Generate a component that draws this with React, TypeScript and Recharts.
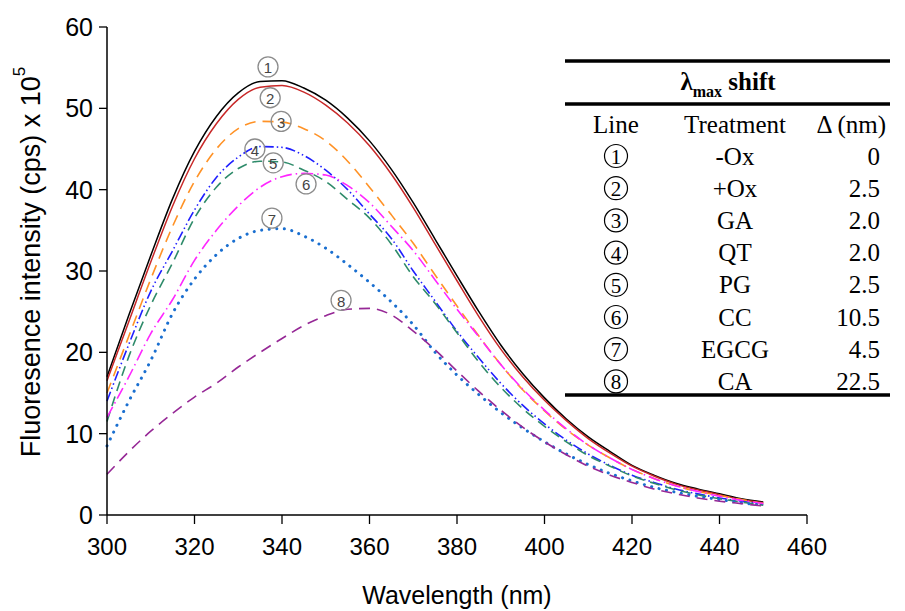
import React from 'react';
import { LineChart, Line, XAxis, YAxis, ReferenceDot } from 'recharts';

const wavelengths = [300, 305, 310, 315, 320, 325, 330, 335, 340, 345, 350, 355, 360, 365, 370, 375, 380, 385, 390, 395, 400, 405, 410, 415, 420, 425, 430, 435, 440, 445, 450];

const line1 = [17, 24.6, 31.9, 38.9, 44.7, 49.0, 51.9, 53.3, 53.4, 52.5, 51, 48.8, 46, 42.5, 38.4, 33.9, 29.4, 25, 20.9, 17.4, 14.4, 11.8, 9.6, 7.8, 6.1, 4.9, 3.9, 3.2, 2.6, 2.0, 1.6];
const line2 = [16.5, 23.8, 31.1, 38.0, 43.8, 48.1, 51.1, 52.6, 52.8, 52, 50.4, 48.2, 45.4, 41.9, 37.8, 33.3, 28.8, 24.4, 20.4, 17.0, 14.1, 11.6, 9.4, 7.6, 6, 4.8, 3.8, 3.1, 2.5, 1.9, 1.5];
const line3 = [15, 22, 29, 35.5, 41, 45, 47.5, 48.4, 48.3, 47.5, 46, 43.5, 40.3, 36.9, 33.4, 29.5, 25.7, 22, 18.5, 15.4, 12.8, 10.5, 8.6, 7, 5.6, 4.5, 3.6, 2.9, 2.4, 1.9, 1.4];
const line4 = [14, 21, 27.5, 32.5, 37.5, 41.5, 44, 45.3, 45.2, 44.2, 42.4, 40, 37, 34, 30, 26.3, 22.6, 19.3, 16.2, 13.5, 11.2, 9.2, 7.5, 6.1, 4.9, 4, 3.2, 2.6, 2.1, 1.7, 1.3];
const line5 = [11.5, 19.5, 25.8, 31, 36.5, 40.3, 42.6, 43.5, 43.4, 42.4, 41, 38.8, 36.5, 33.3, 29.3, 26, 22.4, 18.8, 15.7, 13.1, 10.9, 9, 7.3, 6, 4.8, 3.9, 3.1, 2.5, 2, 1.6, 1.2];
const line6 = [12, 17, 22.3, 26.5, 31.3, 35, 38, 40.3, 41.6, 42, 41.8, 40.5, 38.4, 35.5, 32.5, 28.9, 25.3, 21.9, 18.5, 15.5, 12.9, 10.6, 8.6, 7, 5.6, 4.5, 3.6, 2.9, 2.3, 1.8, 1.4];
const line7 = [8.5, 14, 19, 24.8, 29, 32, 34, 35, 35.2, 34.3, 32.8, 30.8, 28.6, 26.2, 23.4, 20, 17.2, 14.8, 12.6, 10.7, 9, 7.5, 6.2, 5.1, 4.2, 3.4, 2.8, 2.3, 1.9, 1.5, 1.2];
const line8 = [5, 7.8, 10.3, 12.5, 14.5, 16.2, 18.2, 20, 21.7, 23.3, 24.5, 25.3, 25.4, 24.6, 22.6, 20.3, 17.7, 15.2, 12.9, 10.8, 9, 7.4, 6, 4.9, 4, 3.2, 2.6, 2.1, 1.7, 1.4, 1.1];

const xTicks = [300, 320, 340, 360, 380, 400, 420, 440, 460];
const yTicks = [0, 10, 20, 30, 40, 50, 60];

// circled-number annotations: [wavelength, intensity]
const markerNumbers = ['1', '2', '3', '4', '5', '6', '7', '8'];
const markerX = [336.8, 337.3, 339.8, 333.8, 338, 345.5, 337.7, 353.5];
const markerY = [55.1, 51.3, 48.4, 45.0, 43.3, 40.7, 36.5, 26.4];

// table
const tableLines = ['1', '2', '3', '4', '5', '6', '7', '8'];
const tableTreatments = ['-Ox', '+Ox', 'GA', 'QT', 'PG', 'CC', 'EGCG', 'CA'];
const tableShifts = ['0', '2.5', '2.0', '2.0', '2.5', '10.5', '4.5', '22.5'];

const seriesKeys = ['s1', 's2', 's3', 's4', 's5', 's6', 's7', 's8'];
const seriesValues = [line1, line2, line3, line4, line5, line6, line7, line8];

const data = wavelengths.map((w, i) => {
  const row: Record<string, number> = { w };
  seriesKeys.forEach((k, j) => {
    row[k] = seriesValues[j][i];
  });
  return row;
});

const seriesStyles = [
  { stroke: '#000000', dash: undefined, width: 1.5, cap: 'butt' },
  { stroke: '#c82828', dash: undefined, width: 1.5, cap: 'butt' },
  { stroke: '#ff9226', dash: '11 7', width: 1.6, cap: 'butt' },
  { stroke: '#1f1fff', dash: '10 3 1.5 3 1.5 3', width: 1.6, cap: 'butt' },
  { stroke: '#2e8b6a', dash: '10 6', width: 1.6, cap: 'butt' },
  { stroke: '#ff26ff', dash: '12 4 1.5 4', width: 1.6, cap: 'butt' },
  { stroke: '#1a6fd0', dash: '0.1 7.5', width: 3, cap: 'round' },
  { stroke: '#962896', dash: '11 7', width: 1.6, cap: 'butt' },
];

const sans = "'Liberation Sans', Arial, sans-serif";
const serif = "'Liberation Serif', 'Times New Roman', serif";

const CircleMark = (props: any) => {
  const { cx, cy, num } = props;
  return (
    <g>
      <circle cx={cx} cy={cy} r={10} fill="none" stroke="#8c8c8c" strokeWidth={1.3} />
      <text x={cx} y={cy + 1} textAnchor="middle" dominantBaseline="central" fontSize={15} fontFamily={sans} fill="#444">
        {num}
      </text>
    </g>
  );
};

const TableOverlay = () => {
  const left = 565;
  const right = 890;
  const headerY = 124;
  const step = 32.2;
  const firstRow = 156;
  const fs = 25;
  return (
    <svg width={905} height={611} style={{ position: 'absolute', left: 0, top: 0, pointerEvents: 'none' }}>
      <line x1={left} x2={right} y1={61} y2={61} stroke="#000" strokeWidth={3.5} />
      <line x1={left} x2={right} y1={104} y2={104} stroke="#000" strokeWidth={3.5} />
      <line x1={left} x2={right} y1={395} y2={395} stroke="#000" strokeWidth={3.5} />
      <text x={728} y={90} textAnchor="middle" fontFamily={serif} fontWeight="bold" fontSize={25} fill="#000">
        λ<tspan fontSize={16} dy={7}>max</tspan>
        <tspan dy={-7}> shift</tspan>
      </text>
      <text x={616} y={headerY} textAnchor="middle" dominantBaseline="central" fontFamily={serif} fontSize={fs} fill="#000">Line</text>
      <text x={735} y={headerY} textAnchor="middle" dominantBaseline="central" fontFamily={serif} fontSize={fs} fill="#000">Treatment</text>
      <text x={886} y={headerY} textAnchor="end" dominantBaseline="central" fontFamily={serif} fontSize={fs} fill="#000">Δ (nm)</text>
      {tableLines.map((n, i) => {
        const y = firstRow + i * step;
        return (
          <g key={n}>
            <circle cx={616} cy={y} r={11.5} fill="none" stroke="#000" strokeWidth={1.2} />
            <text x={616} y={y + 1} textAnchor="middle" dominantBaseline="central" fontFamily={serif} fontSize={21} fill="#000">{n}</text>
            <text x={735} y={y} textAnchor="middle" dominantBaseline="central" fontFamily={serif} fontSize={fs} fill="#000">{tableTreatments[i]}</text>
            <text x={880} y={y} textAnchor="end" dominantBaseline="central" fontFamily={serif} fontSize={fs} fill="#000">{tableShifts[i]}</text>
          </g>
        );
      })}
    </svg>
  );
};

export default function App() {
  return (
    <div style={{ position: 'absolute', left: 0, top: 0, width: 905, height: 611, background: '#fff' }}>
      <LineChart width={905} height={611} data={data} margin={{ top: 27, right: 98, bottom: 0, left: 47 }}>
        <XAxis
          dataKey="w"
          type="number"
          domain={[300, 460]}
          ticks={xTicks}
          interval={0}
          height={96}
          tickSize={9}
          tickMargin={14}
          axisLine={{ stroke: '#000', strokeWidth: 1.5 }}
          tickLine={{ stroke: '#000', strokeWidth: 1.3 }}
          tick={{ fontSize: 24, fill: '#000', fontFamily: sans }}
          label={{
            content: (p: any) => {
              const vb = p.viewBox || { x: 107, y: 515, width: 700, height: 96 };
              return (
                <text x={vb.x + vb.width / 2} y={vb.y + 80} textAnchor="middle" dominantBaseline="central" fontSize={25} fontFamily={sans} fill="#000">
                  Wavelength (nm)
                </text>
              );
            },
          }}
        />
        <YAxis
          type="number"
          domain={[0, 60]}
          ticks={yTicks}
          interval={0}
          width={60}
          tickSize={8}
          tickMargin={6}
          axisLine={{ stroke: '#000', strokeWidth: 1.5 }}
          tickLine={{ stroke: '#000', strokeWidth: 1.3 }}
          tick={{ fontSize: 25, fill: '#000', fontFamily: sans }}
          label={{
            content: () => {
              return (
                <text transform="translate(31, 262) rotate(-90)" textAnchor="middle" dominantBaseline="central" fontSize={27} fontFamily={sans} fill="#000">
                  Fluoresence intensity (cps) x 10<tspan fontSize={17} dy={-12}>5</tspan>
                </text>
              );
            },
          }}
        />
        {seriesKeys.map((k, i) => (
          <Line
            key={k}
            dataKey={k}
            type="monotone"
            stroke={seriesStyles[i].stroke}
            strokeWidth={seriesStyles[i].width}
            strokeDasharray={seriesStyles[i].dash}
            strokeLinecap={seriesStyles[i].cap as any}
            dot={false}
            activeDot={false}
            isAnimationActive={false}
          />
        ))}
        {markerNumbers.map((n, i) => (
          <ReferenceDot
            key={'m' + n}
            x={markerX[i]}
            y={markerY[i]}
            r={10}
            ifOverflow="visible"
            shape={(p: any) => <CircleMark cx={p.cx} cy={p.cy} num={n} />}
          />
        ))}
      </LineChart>
      <TableOverlay />
    </div>
  );
}
